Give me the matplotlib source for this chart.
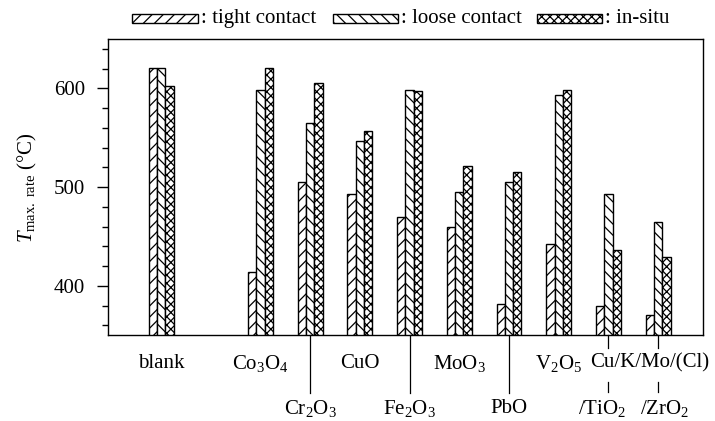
import numpy as np
import matplotlib
matplotlib.use('Agg')
import matplotlib.pyplot as plt
from matplotlib.patches import Rectangle

plt.rcParams['font.family'] = 'Liberation Serif'
plt.rcParams['mathtext.fontset'] = 'custom'
plt.rcParams['mathtext.rm'] = 'Liberation Serif'
plt.rcParams['mathtext.it'] = 'Liberation Serif:italic'
plt.rcParams['hatch.linewidth'] = 0.9

# data (T max. rate in degC)
groups = ['blank', 'Co3O4', 'Cr2O3', 'CuO', 'Fe2O3', 'MoO3', 'PbO', 'V2O5',
          'Cu/K/Mo/(Cl)/TiO2', 'Cu/K/Mo/(Cl)/ZrO2']
positions = [0, 2, 3, 4, 5, 6, 7, 8, 9, 10]
tight = [621, 414, 505, 493, 470, 460, 382, 442, 380, 370]
loose = [621, 598, 565, 547, 598, 495, 505, 593, 493, 465]
insitu = [603, 621, 606, 557, 597, 521, 515, 598, 436, 429]

# category labels (x position, text), two rows under the axis
row1 = [(0, 'blank'), (2, 'Co$_3$O$_4$'), (4, 'CuO'), (6, 'MoO$_3$'),
        (8, 'V$_2$O$_5$'), (9.84, 'Cu/K/Mo/(Cl)')]
row2 = [(3, 'Cr$_2$O$_3$'), (5, 'Fe$_2$O$_3$'), (7, 'PbO'),
        (8.88, '/TiO$_2$'), (10.14, '/ZrO$_2$')]

fig = plt.figure(figsize=(7.15, 4.21), dpi=100)
ax = fig.add_axes([0.151, 0.204, 0.832, 0.703])

w = 0.167
x = np.array(positions, dtype=float)
ax.bar(x - w, tight, w, color='white', edgecolor='black',
       hatch='///', linewidth=1.0)
ax.bar(x, loose, w, color='white', edgecolor='black', hatch='\\\\\\',
       linewidth=1.0)
ax.bar(x + w, insitu, w, color='white', edgecolor='black', hatch='xxxx',
       linewidth=1.0)

ax.set_ylim(350, 650)
ax.set_xlim(-1.07, 10.9)
ax.set_yticks([400, 500, 600])
ax.set_yticks(np.arange(360, 650, 20), minor=True)
ax.tick_params(axis='y', which='major', length=8, width=1, labelsize=15, pad=8.5)
ax.tick_params(axis='y', which='minor', length=4, width=1)
ax.set_xticks([])
for s in ax.spines.values():
    s.set_linewidth(1.0)

ax.set_ylabel(r'$T_{\mathrm{max.\ rate}}$ (°C)', fontsize=15, labelpad=11)

tr = ax.get_xaxis_transform()
for xp, t in row1:
    ax.text(xp, -0.095, t, transform=tr, ha='center', va='center',
            fontsize=15, clip_on=False)
for xp, t in row2:
    ax.text(xp, -0.247, t, transform=tr, ha='center', va='center',
            fontsize=15, clip_on=False)

# leader lines under the axis
for xp in [3, 5, 7]:
    ax.plot([xp, xp], [0, -0.196], transform=tr, color='black', lw=0.9,
            clip_on=False)
for xp in [9, 10]:
    ax.plot([xp, xp], [0, -0.044], transform=tr, color='black', lw=0.9,
            clip_on=False)
    ax.plot([xp, xp], [-0.159, -0.193], transform=tr, color='black', lw=0.9,
            clip_on=False)

# legend drawn by hand above the axes
legend_items = [(132, 66, '///', ': tight contact'),
                (333, 65, '\\\\\\', ': loose contact'),
                (537, 65, 'xxxx', ': in-situ')]
W, H = 715.0, 421.0
for x0, pw, h, lab in legend_items:
    fig.add_artist(Rectangle((x0 / W, 1 - 23 / H), pw / W, 9 / H,
                             transform=fig.transFigure, facecolor='white',
                             edgecolor='black', hatch=h, linewidth=1.0))
    fig.text((x0 + pw + 3) / W, 1 - 18.5 / H, lab, ha='left', va='center',
             fontsize=15)

fig.savefig('out.png', dpi=100)
